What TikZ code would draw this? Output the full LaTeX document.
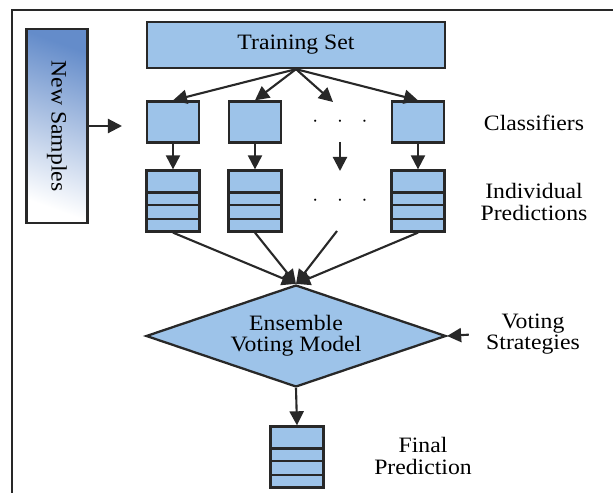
\documentclass[tikz,border=0pt]{standalone}
\usepackage{fontspec}
\setmainfont[FakeStretch=1.08]{Liberation Serif}
\usetikzlibrary{arrows.meta,shapes.geometric,calc,positioning}
\definecolor{boxblue}{RGB}{157,195,233}
\definecolor{inkgray}{RGB}{40,40,40}
\definecolor{sampleblue}{RGB}{100,140,202}
\tikzset{
  box/.style={draw=inkgray,line width=1.3pt,fill=boxblue,inner sep=0pt},
  predstack/.style={box,minimum width=1.06cm,minimum height=1.22cm,
    path picture={\foreach \f in {0.36,0.57,0.79}
      \draw[inkgray,line width=1.3pt]
        ($(path picture bounding box.north west)!\f!(path picture bounding box.south west)$) --
        ($(path picture bounding box.north east)!\f!(path picture bounding box.south east)$);}},
  label/.style={align=center,font=\fontsize{12.5}{12}\selectfont}
}
\begin{document}
\begin{tikzpicture}[x=0.02cm,y=-0.02cm,>={Triangle[length=8pt,width=8pt]},
  line width=1.2pt,draw=inkgray,font=\fontsize{12.5}{12}\selectfont]
\useasboundingbox (0,0) rectangle (613,493);

% frame
\draw[line width=1.4pt] (12,520) -- (12,10) -- (640,10);

\node[box,minimum width=5.96cm,minimum height=0.92cm] (ts) at (296,45) {Training Set};
\node[draw=inkgray,line width=1.3pt,top color=sampleblue,bottom color=white,shading angle=-20,
  minimum width=1.22cm,minimum height=3.88cm] (ns) at (57,126) {};
\node[rotate=-90] at (ns.center) {New Samples};
\coordinate (nsin) at (122,126);

% classifiers
\node[box,minimum width=1.04cm,minimum height=0.82cm] (c1) at (173,122) {};
\node[box,minimum width=1.04cm,minimum height=0.82cm] (c2) at (255,122) {};
\node (c3) at (340,122) {$\cdot\hspace{8pt}\cdot\hspace{8pt}\cdot$};
\node[box,minimum width=1.04cm,minimum height=0.82cm] (c4) at (418,122) {};
\coordinate (c3in) at (333,102);
\coordinate (c3out) at (340,142);

% individual predictions
\node[predstack] (p1) at (173,201) {};
\node[predstack] (p2) at (255,201) {};
\node (p3) at (340,201) {$\cdot\hspace{8pt}\cdot\hspace{8pt}\cdot$};
\node[predstack] (p4) at (418,201) {};
\coordinate (p3in) at (340,171);
\coordinate (p3out) at (337,231);

\node[diamond,box,minimum width=6cm,minimum height=2.04cm,aspect=3,align=center] (vote) at (296,336)
  {Ensemble\\Voting Model};
\node[predstack] (final) at (297,457) {};

% labels
\node[label] (cl) at (534,123) {Classifiers};
\node[label] (ip) at (534,202) {Individual\\Predictions};
\node[label] (vs) at (533,334) {Voting\\Strategies};
\node[label] (fp) at (423,456) {Final\\Prediction};

\path[->] (ns.east) edge (nsin)
  (ts.south) edge (c1.north)
             edge (c2.north)
             edge (c3in)
             edge (c4.north)
  (c1) edge (p1)
  (c2) edge (p2)
  (c3out) edge (p3in)
  (c4) edge (p4)
  (p1.south) edge (vote.north)
  (p2.south) edge (vote.north)
  (p3out) edge (vote.north)
  (p4.south) edge (vote.north)
  (vs.west) edge[shorten <=6pt] (vote.east)
  (vote.south) edge (final.north);

\end{tikzpicture}
\end{document}
